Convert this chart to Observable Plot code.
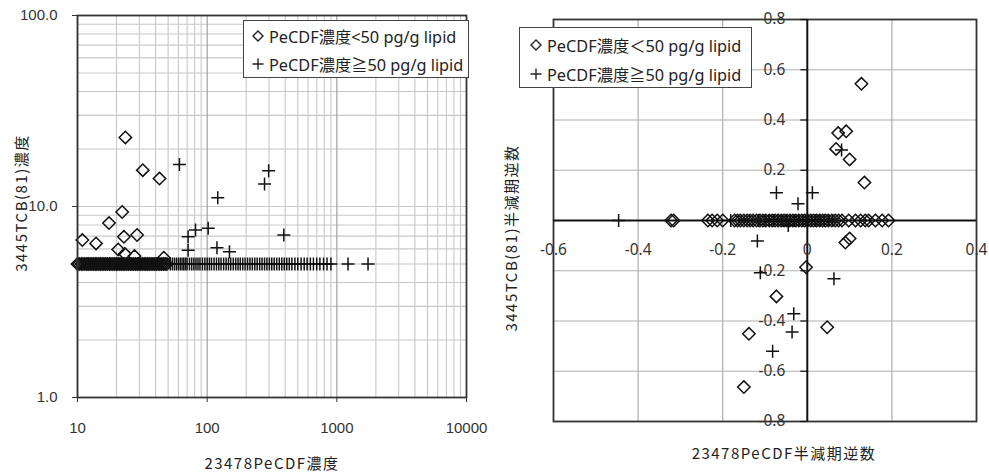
<!DOCTYPE html>
<html><head><meta charset="utf-8">
<script src="https://cdn.jsdelivr.net/npm/d3@7"></script>
<script src="https://cdn.jsdelivr.net/npm/@observablehq/plot@0.6"></script>
<style>
body{margin:0;background:#fff;}
#wrap{position:relative;width:989px;height:472px;overflow:hidden;background:#fff;}
.panel{position:absolute;top:0;}
.legend{position:absolute;background:#fff;border:1px solid #444;box-sizing:border-box;}
.legend .row{position:absolute;height:20px;display:flex;align-items:center;white-space:nowrap;font-family:"Noto Sans","Noto Sans CJK JP",sans-serif;font-size:16.3px;color:#222;}
.legend svg{margin-right:5px;}
.title{position:absolute;white-space:nowrap;font-family:"Noto Sans CJK JP",sans-serif;font-size:15px;color:#222;letter-spacing:1.5px;transform:translate(-50%,-50%);}
.title.rot{transform:translate(-50%,-50%) rotate(-90deg);}
</style></head>
<body><div id="wrap"></div>
<script>
// ---------- Left chart data (log-log concentrations) ----------
const leftXTicks = [10, 100, 1000, 10000];
const leftYTicks = [1, 10, 100];
const leftBaselineY = 5.0;
// diamonds: PeCDF < 50 pg/g lipid
const leftDiamX = [23.4, 31.9, 42.9, 22.1, 17.5, 10.9, 13.9, 22.8, 28.8, 20.6, 23.2, 27.5, 46.3];
const leftDiamY = [23.0, 15.5, 14.0, 9.36, 8.19, 6.67, 6.41, 6.94, 7.09, 5.96, 5.65, 5.5, 5.39];
const leftDiamBaseX = [10.0, 10.3, 10.7, 11.0, 11.4, 11.8, 12.1, 12.5, 12.9, 13.3, 13.7, 14.1, 14.6, 15.0, 15.5, 16.0, 16.5, 17.0, 17.6, 18.1, 18.7, 19.3, 19.9, 20.5, 21.2, 21.8, 22.5, 23.2, 24.0, 24.7, 25.5, 26.3, 27.1, 28.0, 28.9, 29.8, 30.7, 31.7, 32.7, 33.7, 34.8, 35.9, 37.0, 38.2, 39.4, 40.6, 41.9, 43.2, 44.6, 46.0, 47.4, 48.9];
// crosses: PeCDF >= 50 pg/g lipid
const leftCrossX = [61.1, 277, 298, 120.7, 71.3, 81.3, 101.8, 71.3, 119, 148.6, 390];
const leftCrossY = [16.6, 13.1, 15.4, 11.1, 6.94, 7.53, 7.69, 5.91, 6.08, 5.79, 7.09];
const leftCrossBaseX = [52, 54, 56, 58, 60, 62, 64, 66, 68, 70, 73, 76, 79, 82, 85, 88, 92, 96, 100, 104, 108, 113, 118, 123, 128, 134, 140, 146, 152, 159, 166, 173, 180, 188, 196, 205, 214, 223, 233, 243, 254, 265, 277, 289, 302, 315, 329, 344, 360, 376, 393, 411, 430, 450, 475, 500, 530, 560, 590, 625, 660, 700, 740, 790, 840, 900, 1220, 1740];

// ---------- Right chart data (reciprocal half-lives) ----------
const rightXTicks = [-0.6, -0.4, -0.2, 0, 0.2, 0.4];
const rightXTickLabels = ["-0.6", "-0.4", "-0.2", "0", "0.2", "0.4"];
const rightYTicks = [0.8, 0.6, 0.4, 0.2, -0.2, -0.4, -0.6, -0.8];
const rightYTickLabels = ["0.8", "0.6", "0.4", "0.2", "-0.2", "-0.4", "-0.6", "-0.8"];
const rightGridX = [-0.4, -0.2, 0.2];
const rightGridY = [0.6, 0.4, 0.2, -0.2, -0.4, -0.6];
const rightBaselineY = 0;
const rightDiamX = [0.128, 0.073, 0.092, 0.068, 0.100, 0.135, 0.090, 0.100, -0.003, -0.073, 0.047, -0.138, -0.150];
const rightDiamY = [0.544, 0.348, 0.355, 0.285, 0.243, 0.151, -0.088, -0.072, -0.186, -0.302, -0.425, -0.451, -0.663];
const rightDiamBaseX = [-0.322, -0.316, -0.235, -0.225, -0.213, -0.200, -0.172, -0.165, -0.158, -0.150, -0.142, -0.135, -0.128, -0.120, -0.112, -0.105, -0.098, -0.090, -0.083, -0.076, -0.069, -0.062, -0.055, -0.048, -0.041, -0.034, -0.027, -0.020, -0.013, -0.006, 0.001, 0.008, 0.015, 0.022, 0.029, 0.036, 0.043, 0.050, 0.058, 0.066, 0.074, 0.082, 0.098, 0.114, 0.126, 0.137, 0.145, 0.161, 0.177, 0.192];
const rightCrossX = [0.081, 0.012, -0.073, -0.022, -0.118, -0.045, -0.111, 0.063, -0.032, -0.036, -0.082];
const rightCrossY = [0.281, 0.110, 0.110, 0.067, -0.082, -0.020, -0.208, -0.232, -0.371, -0.444, -0.520];
const rightCrossBaseX = [-0.446, -0.181, -0.115, -0.100, -0.090, -0.080, -0.070, -0.060, -0.050, -0.040, -0.030, -0.020, -0.010, 0.000, 0.010, 0.020, 0.030, 0.040, 0.050, 0.060];

const legendLabels = {
  left: ["PeCDF濃度<50 pg/g lipid", "PeCDF濃度≧50 pg/g lipid"],
  right: ["PeCDF濃度＜50 pg/g lipid", "PeCDF濃度≧50 pg/g lipid"]
};
const titles = {
  leftX: "23478PeCDF濃度", leftY: "3445TCB(81)濃度",
  rightX: "23478PeCDF半減期逆数", rightY: "3445TCB(81)半減期逆数"
};

// ---------- helpers ----------
const diamondSym = {draw(ctx) { const s = 6.2; ctx.moveTo(0, -s); ctx.lineTo(s, 0); ctx.lineTo(0, s); ctx.lineTo(-s, 0); ctx.closePath(); }};
const plusSym = {draw(ctx) { const s = 6.5; ctx.moveTo(-s, 0); ctx.lineTo(s, 0); ctx.moveTo(0, -s); ctx.lineTo(0, s); }};
const leftTickSym = {draw(ctx) { ctx.moveTo(-7, 0); ctx.lineTo(0, 0); }};
const pts = (xs, ys) => xs.map((x, i) => ({x, y: ys[i]}));
const base = (xs, y) => xs.map(x => ({x, y}));

const leftMinorX = [], leftMajorX = [];
for (let d = 10; d < 10000; d *= 10) for (let k = 1; k < 10; k++) (k === 1 ? leftMajorX : leftMinorX).push(d * k);
const leftMinorY = [];
for (let d = 1; d < 100; d *= 10) for (let k = 1; k < 10; k++) if (!(d === 1 && k === 1)) leftMinorY.push(d * k);

const markStyle = {fill: "none", stroke: "#111", strokeWidth: 1.5};

const left = Plot.plot({
  width: 500, height: 472,
  marginLeft: 77, marginRight: 34, marginTop: 15, marginBottom: 75,
  style: {fontFamily: "'Liberation Sans', Arial, sans-serif", fontSize: "15px", color: "#333", background: "transparent"},
  x: {type: "log", domain: [10, 10000]},
  y: {type: "log", domain: [1, 100]},
  marks: [
    Plot.ruleX(leftMinorX, {stroke: "#c8c8c8", strokeWidth: 1.1}),
    Plot.ruleY(leftMinorY, {stroke: "#c8c8c8", strokeWidth: 1.1}),
    Plot.ruleX(leftMajorX, {stroke: "#a0a0a0", strokeWidth: 1.2}),
    Plot.axisX({ticks: leftXTicks, tickFormat: d => String(d), tickSize: 5, tickPadding: 20, label: null}),
    Plot.axisY({ticks: leftYTicks, tickFormat: d => d.toFixed(1), tickSize: 5, tickPadding: 15, label: null}),
    Plot.dot(base(leftDiamBaseX, leftBaselineY), {x: "x", y: "y", symbol: diamondSym, ...markStyle}),
    Plot.dot(base(leftCrossBaseX, leftBaselineY), {x: "x", y: "y", symbol: plusSym, ...markStyle}),
    Plot.dot(pts(leftDiamX, leftDiamY), {x: "x", y: "y", symbol: diamondSym, ...markStyle}),
    Plot.dot(pts(leftCrossX, leftCrossY), {x: "x", y: "y", symbol: plusSym, ...markStyle}),
    Plot.frame({stroke: "#333", strokeWidth: 1.8})
  ]
});

const right = Plot.plot({
  width: 489, height: 472,
  marginLeft: 53, marginRight: 13, marginTop: 19, marginBottom: 51,
  style: {fontFamily: "'Noto Sans', sans-serif", fontSize: "15px", color: "#333", background: "transparent"},
  x: {domain: [-0.6, 0.4], axis: null},
  y: {domain: [-0.8, 0.8], axis: null},
  marks: [
    Plot.ruleX(rightGridX, {stroke: "#b0b0b0", strokeWidth: 1.2}),
    Plot.ruleY(rightGridY, {stroke: "#b0b0b0", strokeWidth: 1.2}),
    Plot.frame({stroke: "#333", strokeWidth: 1.8}),
    Plot.ruleY([rightBaselineY], {stroke: "#111", strokeWidth: 2}),
    Plot.ruleX([0], {stroke: "#111", strokeWidth: 2}),
    Plot.dot(rightYTicks, {x: 0, y: d => d, symbol: leftTickSym, stroke: "#111", strokeWidth: 1.2}),
    Plot.text(rightXTicks, {x: d => d, y: 0, dy: 30, text: (d, i) => rightXTickLabels[i], fill: "#333", fontSize: 15.5}),
    Plot.text(rightYTicks, {x: 0, y: d => d, dx: -22, textAnchor: "end", text: (d, i) => rightYTickLabels[i], fill: "#333", fontSize: 15.5}),
    Plot.dot(base(rightDiamBaseX, rightBaselineY), {x: "x", y: "y", symbol: diamondSym, ...markStyle}),
    Plot.dot(base(rightCrossBaseX, rightBaselineY), {x: "x", y: "y", symbol: plusSym, ...markStyle}),
    Plot.dot(pts(rightDiamX, rightDiamY), {x: "x", y: "y", symbol: diamondSym, ...markStyle}),
    Plot.dot(pts(rightCrossX, rightCrossY), {x: "x", y: "y", symbol: plusSym, ...markStyle})
  ]
});

const wrap = document.getElementById("wrap");
left.classList.add("panel"); left.style.left = "0px";
right.classList.add("panel"); right.style.left = "500px";
wrap.appendChild(left); wrap.appendChild(right);

const diamIcon = '<svg width="12" height="14" viewBox="-6 -7 12 14"><path d="M0,-5L5,0L0,5L-5,0Z" fill="none" stroke="#222" stroke-width="1.4"/></svg>';
const plusIcon = '<svg width="12" height="14" viewBox="-6 -7 12 14"><path d="M-5.5,0H5.5M0,-5.5V5.5" stroke="#222" stroke-width="1.4"/></svg>';

function legend(x, y, w, h, labels, rowCenters, pad) {
  const d = document.createElement("div");
  d.className = "legend";
  Object.assign(d.style, {left: x + "px", top: y + "px", width: w + "px", height: h + "px"});
  [diamIcon, plusIcon].forEach((icon, i) => {
    const r = document.createElement("div");
    r.className = "row";
    r.style.left = pad + "px";
    r.style.top = (rowCenters[i] - 10) + "px";
    r.innerHTML = icon + "<span></span>";
    r.querySelector("span").textContent = labels[i];
    d.appendChild(r);
  });
  wrap.appendChild(d);
}
legend(243, 20, 226, 58, legendLabels.left, [15, 43], 8);
legend(519, 27, 233, 61, legendLabels.right, [17, 46], 10);

function title(text, cx, cy, rot) {
  const t = document.createElement("div");
  t.className = "title" + (rot ? " rot" : "");
  t.style.left = cx + "px"; t.style.top = cy + "px";
  t.textContent = text;
  wrap.appendChild(t);
}
title(titles.leftX, 272, 462, false);
title(titles.leftY, 20, 203, true);
title(titles.rightX, 784, 452, false);
title(titles.rightY, 510, 238, true);
</script>
</body></html>
